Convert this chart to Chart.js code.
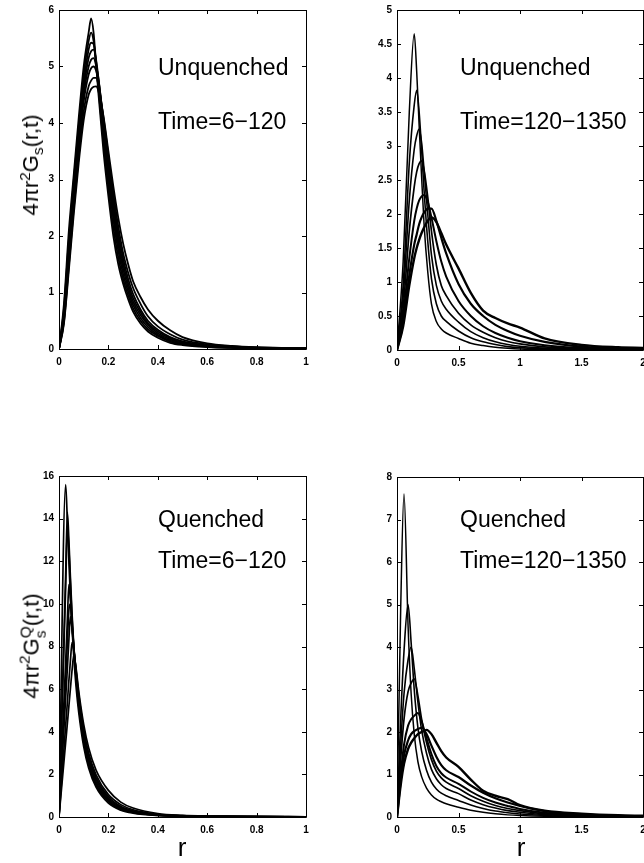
<!DOCTYPE html>
<html>
<head>
<meta charset="utf-8">
<script src="https://cdn.jsdelivr.net/npm/chart.js@4.4.1/dist/chart.umd.min.js"></script>
<style>
  html, body { margin: 0; padding: 0; width: 644px; height: 863px; overflow: hidden; background: #fff; }
  body { position: relative; font-family: "Liberation Sans", Arial, Helvetica, sans-serif; color: #000; }
  canvas { position: absolute; }
  .note { position: absolute; font-size: 23px; line-height: 23px; white-space: nowrap; }
  .ylab { position: absolute; font-size: 22px; line-height: 22px; white-space: nowrap;
          transform: translate(-50%, -50%) rotate(-90deg); }
  .ylab sup, .ylab sub { font-size: 0.7em; line-height: 0; position: relative; vertical-align: baseline; }
  .ylab sup { top: -0.55em; }
  .ylab sub { top: 0.3em; }
  .stk { display: inline-flex; flex-direction: column; font-size: 0.7em; line-height: 1; vertical-align: 0.5em; }
  .xlab { position: absolute; font-size: 26px; line-height: 26px; transform: translateX(-50%); }
</style>
</head>
<body>
<canvas id="c1" width="320" height="380" style="left:0;top:0"></canvas>
<canvas id="c2" width="340" height="380" style="left:320px;top:0"></canvas>
<canvas id="c3" width="320" height="420" style="left:0;top:430px"></canvas>
<canvas id="c4" width="340" height="420" style="left:320px;top:430px"></canvas>

<div class="note" style="left:158px;top:56px">Unquenched</div>
<div class="note" style="left:158px;top:110px">Time=6−120</div>
<div class="note" style="left:460px;top:56px">Unquenched</div>
<div class="note" style="left:460px;top:110px">Time=120−1350</div>
<div class="note" style="left:158px;top:508px">Quenched</div>
<div class="note" style="left:158px;top:549px">Time=6−120</div>
<div class="note" style="left:460px;top:508px">Quenched</div>
<div class="note" style="left:460px;top:549px">Time=120−1350</div>

<div class="ylab" style="left:31px;top:165px">4πr<sup>2</sup>G<sub>s</sub>(r,t)</div>
<div class="ylab" style="left:33px;top:646px">4πr<sup>2</sup>G<span class="stk"><span>Q</span><span>s</span></span>(r,t)</div>

<div class="xlab" style="left:182px;top:834px">r</div>
<div class="xlab" style="left:521px;top:834px">r</div>

<script>
// --- panel 1: unquenched, time 6-120 ---
const r1 = [0, 0.02, 0.04, 0.06, 0.08, 0.10, 0.12, 0.13, 0.14, 0.15, 0.16, 0.18, 0.20, 0.22, 0.24, 0.26, 0.28, 0.30, 0.33, 0.36, 0.40, 0.45, 0.50, 0.60, 0.70, 0.80, 0.90, 1.00];
const u1 = [0, 0.8, 2.1, 3.1, 4.1, 5.0, 5.6, 5.85, 5.6, 5.05, 4.5, 3.5, 2.7, 2.0, 1.5, 1.15, 0.88, 0.66, 0.45, 0.31, 0.2, 0.11, 0.07, 0.035, 0.02, 0.012, 0.008, 0.005];
const u2 = [0, 0.72, 1.95, 3.0, 3.95, 4.85, 5.45, 5.6, 5.45, 5.05, 4.6, 3.65, 2.85, 2.15, 1.62, 1.23, 0.95, 0.72, 0.5, 0.35, 0.23, 0.13, 0.08, 0.04, 0.022, 0.014, 0.009, 0.006];
const u3 = [0, 0.66, 1.85, 2.9, 3.85, 4.7, 5.3, 5.42, 5.4, 5.1, 4.7, 3.8, 3.0, 2.3, 1.74, 1.32, 1.02, 0.78, 0.55, 0.39, 0.25, 0.15, 0.09, 0.045, 0.025, 0.015, 0.01, 0.007];
const u4 = [0, 0.6, 1.75, 2.8, 3.75, 4.6, 5.15, 5.27, 5.3, 5.12, 4.78, 3.92, 3.12, 2.42, 1.85, 1.41, 1.09, 0.84, 0.6, 0.43, 0.28, 0.17, 0.105, 0.05, 0.028, 0.017, 0.011, 0.008];
const u5 = [0, 0.56, 1.65, 2.7, 3.65, 4.5, 5.0, 5.12, 5.15, 5.02, 4.78, 4.0, 3.22, 2.52, 1.95, 1.5, 1.16, 0.9, 0.65, 0.46, 0.31, 0.19, 0.12, 0.058, 0.032, 0.019, 0.012, 0.009];
const u6 = [0, 0.52, 1.55, 2.6, 3.55, 4.38, 4.86, 4.97, 5.0, 4.93, 4.74, 4.06, 3.32, 2.63, 2.05, 1.59, 1.24, 0.97, 0.7, 0.5, 0.34, 0.21, 0.135, 0.065, 0.036, 0.021, 0.014, 0.01];
const u7 = [0, 0.48, 1.48, 2.5, 3.42, 4.2, 4.65, 4.75, 4.8, 4.8, 4.66, 4.1, 3.42, 2.75, 2.17, 1.69, 1.35, 1.08, 0.8, 0.58, 0.4, 0.26, 0.165, 0.08, 0.045, 0.027, 0.017, 0.012];
const u8 = [0, 0.45, 1.4, 2.4, 3.3, 4.05, 4.5, 4.6, 4.64, 4.65, 4.56, 4.12, 3.5, 2.88, 2.32, 1.86, 1.5, 1.2, 0.92, 0.7, 0.5, 0.33, 0.21, 0.1, 0.055, 0.032, 0.02, 0.015];

// --- panel 2: unquenched, time 120-1350 ---
const r2 = [0, 0.05, 0.1, 0.14, 0.16, 0.18, 0.2, 0.22, 0.25, 0.28, 0.32, 0.36, 0.4, 0.5, 0.6, 0.7, 0.8, 0.9, 1.0, 1.2, 1.5, 1.8, 2.0];
const d1 = [0, 1.3, 3.5, 4.65, 4.1, 3.3, 2.55, 1.85, 1.15, 0.68, 0.42, 0.31, 0.25, 0.17, 0.1, 0.065, 0.04, 0.025, 0.015, 0.008, 0.004, 0.002, 0];
const d2 = [0, 0.95, 2.75, 3.6, 3.82, 3.5, 2.95, 2.35, 1.6, 1.05, 0.68, 0.5, 0.42, 0.28, 0.18, 0.12, 0.08, 0.05, 0.035, 0.017, 0.007, 0.003, 0.001];
const d3 = [0, 0.78, 2.2, 2.95, 3.15, 3.25, 3.05, 2.65, 2.0, 1.4, 0.95, 0.72, 0.6, 0.41, 0.27, 0.18, 0.12, 0.08, 0.055, 0.028, 0.012, 0.005, 0.003];
const d4 = [0, 0.62, 1.75, 2.4, 2.62, 2.74, 2.78, 2.65, 2.25, 1.75, 1.25, 0.95, 0.8, 0.54, 0.37, 0.26, 0.18, 0.125, 0.09, 0.045, 0.018, 0.008, 0.005];
const d5 = [0, 0.5, 1.35, 1.9, 2.08, 2.2, 2.26, 2.28, 2.18, 1.95, 1.6, 1.3, 1.08, 0.72, 0.5, 0.35, 0.25, 0.18, 0.13, 0.07, 0.028, 0.012, 0.008];
const d6 = [0, 0.4, 1.1, 1.55, 1.7, 1.85, 1.95, 2.02, 2.08, 2.08, 1.9, 1.65, 1.42, 0.97, 0.68, 0.5, 0.37, 0.28, 0.21, 0.12, 0.05, 0.022, 0.014];
const d7 = [0, 0.35, 0.95, 1.35, 1.5, 1.62, 1.72, 1.8, 1.9, 1.95, 1.88, 1.72, 1.55, 1.2, 0.84, 0.58, 0.47, 0.39, 0.33, 0.17, 0.075, 0.04, 0.03];

// --- panel 3: quenched, time 6-120 ---
const r3 = [0, 0.027, 0.034, 0.04, 0.046, 0.053, 0.06, 0.07, 0.08, 0.1, 0.12, 0.15, 0.2, 0.25, 0.3, 0.4, 0.5, 0.6, 0.8, 1.0];
const q1 = [0, 15.6, 13.8, 12.0, 10.4, 8.8, 7.5, 6.0, 4.9, 3.3, 2.3, 1.4, 0.65, 0.32, 0.18, 0.07, 0.035, 0.02, 0.01, 0.005];
const q2 = [0, 11.4, 14.3, 13.0, 11.3, 9.5, 8.0, 6.4, 5.2, 3.5, 2.45, 1.5, 0.72, 0.36, 0.2, 0.08, 0.04, 0.025, 0.012, 0.006];
const q3 = [0, 10.8, 13.6, 12.6, 11.0, 9.3, 7.9, 6.4, 5.2, 3.55, 2.5, 1.55, 0.76, 0.38, 0.21, 0.085, 0.042, 0.026, 0.013, 0.007];
const q4 = [0, 7.3, 9.3, 10.9, 10.3, 9.0, 7.9, 6.5, 5.4, 3.7, 2.65, 1.65, 0.82, 0.42, 0.24, 0.095, 0.047, 0.028, 0.014, 0.008];
const q5 = [0, 6.5, 8.2, 9.7, 10.0, 9.0, 8.0, 6.6, 5.5, 3.85, 2.75, 1.75, 0.88, 0.46, 0.26, 0.1, 0.05, 0.03, 0.015, 0.009];
const q6 = [0, 5.6, 7.0, 8.3, 9.4, 8.8, 7.9, 6.7, 5.6, 3.95, 2.85, 1.85, 0.95, 0.5, 0.29, 0.11, 0.055, 0.032, 0.016, 0.01];
const q7 = [0, 4.3, 5.4, 6.4, 7.3, 8.2, 7.8, 6.8, 5.75, 4.1, 3.0, 1.98, 1.05, 0.58, 0.34, 0.13, 0.062, 0.036, 0.018, 0.011];
const q8 = [0, 3.5, 4.4, 5.2, 6.0, 6.9, 7.6, 6.9, 5.9, 4.35, 3.25, 2.2, 1.25, 0.7, 0.42, 0.16, 0.075, 0.042, 0.02, 0.012];

// --- panel 4: quenched, time 120-1350 ---
const r4 = [0, 0.03, 0.057, 0.09, 0.115, 0.14, 0.17, 0.2, 0.24, 0.28, 0.32, 0.36, 0.4, 0.5, 0.6, 0.7, 0.8, 0.9, 1.0, 1.2, 1.5, 1.8, 2.0];
const e1 = [0, 4.9, 7.6, 4.5, 2.9, 1.95, 1.3, 0.95, 0.68, 0.52, 0.42, 0.36, 0.31, 0.23, 0.16, 0.11, 0.075, 0.05, 0.035, 0.018, 0.008, 0.004, 0.003];
const e2 = [0, 2.3, 3.9, 5.0, 4.1, 3.0, 2.1, 1.55, 1.1, 0.82, 0.66, 0.56, 0.5, 0.39, 0.28, 0.2, 0.14, 0.1, 0.07, 0.035, 0.015, 0.007, 0.005];
const e3 = [0, 1.7, 2.9, 3.7, 4.0, 3.5, 2.7, 2.05, 1.5, 1.12, 0.9, 0.76, 0.67, 0.55, 0.4, 0.29, 0.21, 0.15, 0.11, 0.055, 0.022, 0.01, 0.007];
const e4 = [0, 1.35, 2.3, 2.95, 3.15, 3.25, 2.85, 2.3, 1.75, 1.35, 1.08, 0.92, 0.82, 0.67, 0.5, 0.37, 0.27, 0.2, 0.15, 0.075, 0.03, 0.014, 0.01];
const e5 = [0, 1.0, 1.7, 2.15, 2.3, 2.38, 2.45, 2.25, 1.85, 1.48, 1.2, 1.03, 0.93, 0.78, 0.6, 0.45, 0.34, 0.26, 0.19, 0.1, 0.04, 0.018, 0.012];
const e6 = [0, 0.85, 1.45, 1.8, 1.95, 2.02, 2.07, 2.1, 1.95, 1.68, 1.42, 1.22, 1.1, 0.94, 0.74, 0.57, 0.44, 0.34, 0.26, 0.14, 0.06, 0.028, 0.02];
const e7 = [0, 0.75, 1.25, 1.6, 1.75, 1.85, 1.95, 2.0, 2.05, 1.95, 1.75, 1.55, 1.4, 1.18, 0.88, 0.62, 0.5, 0.42, 0.28, 0.15, 0.08, 0.04, 0.03];

const FONT = '"Liberation Sans", Arial, Helvetica, sans-serif';

// box round the plot with inward ticks on all four sides
const boxTicks = {
  id: 'boxTicks',
  afterDraw(chart) {
    const { ctx, chartArea: a, scales: { x, y } } = chart;
    const len = 4;
    ctx.save();
    ctx.strokeStyle = '#000';
    ctx.lineWidth = 1;
    ctx.beginPath();
    ctx.rect(Math.round(a.left) + 0.5, Math.round(a.top) + 0.5,
             Math.round(a.right - a.left), Math.round(a.bottom - a.top));
    x.ticks.forEach(t => {
      const px = Math.round(x.getPixelForValue(t.value)) + 0.5;
      ctx.moveTo(px, a.bottom); ctx.lineTo(px, a.bottom - len);
      ctx.moveTo(px, a.top); ctx.lineTo(px, a.top + len);
    });
    y.ticks.forEach(t => {
      const py = Math.round(y.getPixelForValue(t.value)) + 0.5;
      ctx.moveTo(a.left, py); ctx.lineTo(a.left + len, py);
      ctx.moveTo(a.right, py); ctx.lineTo(a.right - len, py);
    });
    ctx.stroke();
    ctx.restore();
  }
};

const fmt = v => String(Math.round(v * 10) / 10);

function makePanel(id, r, curves, opt) {
  const datasets = curves.map((vals, k) => ({
    data: vals.map((v, i) => ({ x: r[i], y: v })),
    borderColor: '#000',
    borderWidth: opt.widths[k],
    pointRadius: 0,
    fill: false,
    cubicInterpolationMode: 'monotone'
  }));
  return new Chart(document.getElementById(id), {
    type: 'line',
    data: { datasets },
    options: {
      responsive: false,
      animation: false,
      devicePixelRatio: 1,
      layout: { padding: { left: 0, top: opt.top, right: opt.right, bottom: 0 } },
      plugins: { legend: { display: false }, tooltip: { enabled: false } },
      scales: {
        x: {
          type: 'linear', min: 0, max: opt.xmax,
          grid: { display: false, drawTicks: false },
          border: { display: false },
          ticks: { stepSize: opt.xstep, padding: 7, color: '#000', maxRotation: 0,
                   font: { family: FONT, size: 10, weight: 'bold' }, callback: fmt },
          afterFit: s => { s.height = opt.xh; s.paddingLeft = 0; s.paddingRight = 0; }
        },
        y: {
          min: 0, max: opt.ymax,
          grid: { display: false, drawTicks: false },
          border: { display: false },
          ticks: { stepSize: opt.ystep, padding: 5, color: '#000',
                   font: { family: FONT, size: 10, weight: 'bold' }, callback: fmt },
          afterFit: s => { s.width = opt.yw; s.paddingTop = 0; s.paddingBottom = 0; }
        }
      }
    },
    plugins: [boxTicks]
  });
}

makePanel('c1', r1, [u1, u2, u3, u4, u5, u6, u7, u8],
  { xmax: 1, xstep: 0.2, ymax: 6, ystep: 1, top: 10, right: 14, yw: 59, xh: 31,
    widths: [1.8, 1.8, 1.8, 1.8, 1.8, 1.8, 1.8, 1.8] });
makePanel('c2', r2, [d1, d2, d3, d4, d5, d6, d7],
  { xmax: 2, xstep: 0.5, ymax: 5, ystep: 0.5, top: 10, right: 17, yw: 77, xh: 30,
    widths: [1.5, 1.6, 1.6, 1.7, 2, 2.2, 2.4] });
makePanel('c3', r3, [q1, q2, q3, q4, q5, q6, q7, q8],
  { xmax: 1, xstep: 0.2, ymax: 16, ystep: 2, top: 46, right: 14, yw: 59, xh: 33,
    widths: [1.7, 1.7, 1.7, 1.7, 1.7, 1.7, 1.7, 1.7] });
makePanel('c4', r4, [e1, e2, e3, e4, e5, e6, e7],
  { xmax: 2, xstep: 0.5, ymax: 8, ystep: 1, top: 47, right: 17, yw: 77, xh: 33,
    widths: [1.5, 1.6, 1.6, 1.7, 2, 2.2, 2.4] });
</script>
</body>
</html>
